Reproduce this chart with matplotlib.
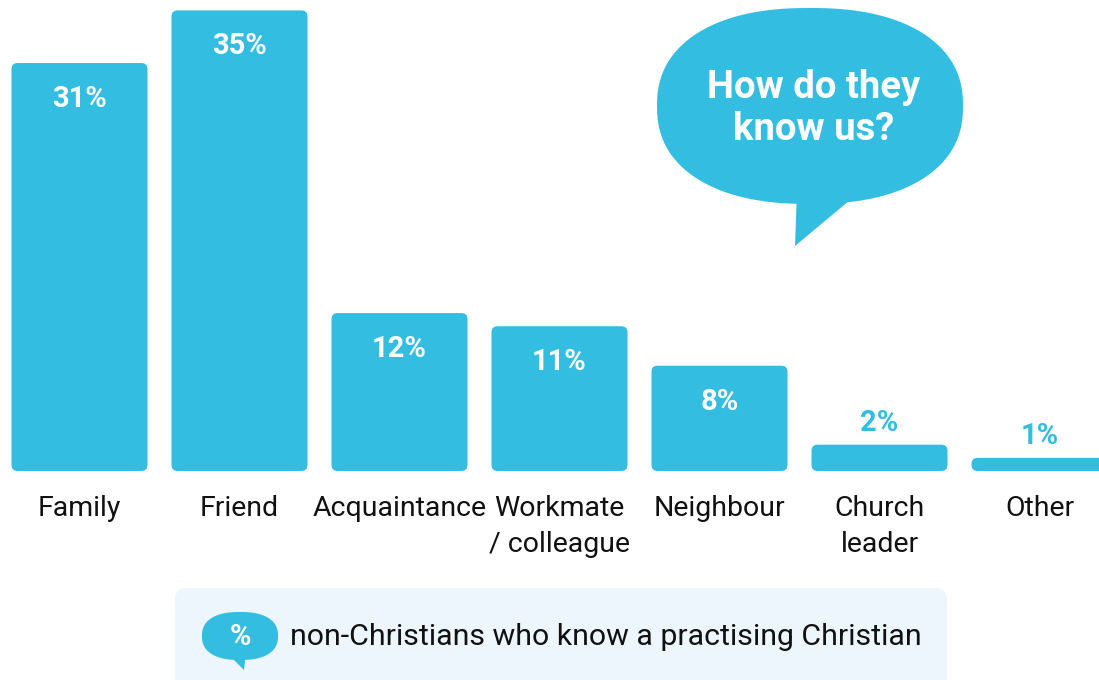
"""
How do they know us?
Share of non-Christians who know a practising Christian,
by how they know them.
"""

import numpy as np
import matplotlib
matplotlib.use("Agg")
import matplotlib.pyplot as plt
from matplotlib.patches import FancyBboxPatch, Polygon


# ---------------------------
# Data
# ---------------------------

categories = ["Family", "Friend", "Acquaintance", "Workmate\n/ colleague",
              "Neighbour", "Church\nleader", "Other"]
values = [31, 35, 12, 11, 8, 2, 1]
value_labels = ["31%", "35%", "12%", "11%", "8%", "2%", "1%"]


# ---------------------------
# Plot style
# ---------------------------

plt.rcParams["font.family"] = ["Roboto", "DejaVu Sans"]

BLUE = "#33bde0"
PANEL = "#edf6fc"
TEXT = "#111111"

W, H = 1099, 680
PX_X = 160.0      # pixels per category step
PX_Y = 13.16      # pixels per percentage point
BASE = 209.0      # pixels from the bottom edge to the bar baseline
LEFT = 79.5       # pixel centre of the first bar


# ---------------------------
# Figure and axes
# ---------------------------

fig = plt.figure(figsize=(W / 100, H / 100), dpi=100)
fig.patch.set_facecolor("white")

# decoration layer in pixel coordinates (y downwards)
deco = fig.add_axes([0, 0, 1, 1])
deco.set_xlim(0, W)
deco.set_ylim(H, 0)
deco.axis("off")

# data layer
ax = fig.add_axes([0, 0, 1, 1])
ax.patch.set_alpha(0)
xmin = -LEFT / PX_X
ax.set_xlim(xmin, xmin + W / PX_X)
ymin = -BASE / PX_Y
ax.set_ylim(ymin, ymin + H / PX_Y)
ax.axis("off")


def lines(axis, x0, y0, step, txt, **kw):
    # one text per line, baselines step apart (in axis y units)
    for k, line in enumerate(txt.split("\n")):
        axis.text(x0, y0 + k * step, line, va="baseline", **kw)


# ---------------------------
# Bars with rounded corners
# ---------------------------

x = np.arange(len(categories))
bars = ax.bar(x, values, width=136 / PX_X, color=BLUE)

aspect = PX_X / PX_Y
for b in bars:
    b.set_visible(False)
    r = min(6.0, b.get_height() * PX_Y / 2) / PX_X
    p = FancyBboxPatch(
        (b.get_x(), b.get_y()), b.get_width(), b.get_height(),
        boxstyle=f"round,pad=0,rounding_size={r}",
        mutation_aspect=aspect,
        facecolor=BLUE, edgecolor="none"
    )
    ax.add_patch(p)


# ---------------------------
# Value labels
# ---------------------------

for xi, v, lab in zip(x, values, value_labels):
    if v >= 5:
        ax.text(xi, v - 44 / PX_Y, lab, ha="center", va="baseline",
                fontsize=21, fontweight="bold", color="white")
    else:
        ax.text(xi, v + 14 / PX_Y, lab, ha="center", va="baseline",
                fontsize=21, fontweight="bold", color=BLUE)


# ---------------------------
# Category labels
# ---------------------------

for xi, cat in zip(x, categories):
    lines(ax, xi, -(516 - (H - BASE)) / PX_Y, -36 / PX_Y, cat,
          ha="center", fontsize=20.5, color=TEXT)


# ---------------------------
# Speech bubble
# ---------------------------

def blob(cx, cy, a, b, n=2.6, k=200):
    t = np.linspace(0, 2 * np.pi, k)
    c, s = np.cos(t), np.sin(t)
    px = cx + a * np.sign(c) * np.abs(c) ** (2 / n)
    py = cy + b * np.sign(s) * np.abs(s) ** (2 / n)
    return np.column_stack([px, py])


deco.add_patch(Polygon(blob(810, 106, 153, 98, n=2.3), closed=True,
                       facecolor=BLUE, edgecolor="none"))
deco.add_patch(Polygon([(797, 190), (795, 246), (856, 195)], closed=True,
                       facecolor=BLUE, edgecolor="none"))
lines(deco, 814, 98, 42, "How do they\nknow us?", ha="center",
      fontsize=27.5, fontweight="bold", color="white")


# ---------------------------
# Legend panel
# ---------------------------

deco.add_patch(FancyBboxPatch(
    (175, 588), 772, 110,
    boxstyle="round,pad=0,rounding_size=12",
    facecolor=PANEL, edgecolor="none"
))
deco.add_patch(Polygon(blob(240, 636, 38, 24, n=2.4), closed=True,
                       facecolor=BLUE, edgecolor="none"))
deco.add_patch(Polygon([(226, 652), (244, 670), (246, 652)], closed=True,
                       facecolor=BLUE, edgecolor="none"))
deco.text(240, 645, "%", ha="center", va="baseline",
          fontsize=21, fontweight="bold", color="white")
deco.text(290, 645, "non-Christians who know a practising Christian",
          ha="left", va="baseline", fontsize=21.8, color=TEXT)


# ---------------------------
# Save figure
# ---------------------------

fig.savefig("out.png", dpi=100, facecolor="white")
plt.close(fig)
